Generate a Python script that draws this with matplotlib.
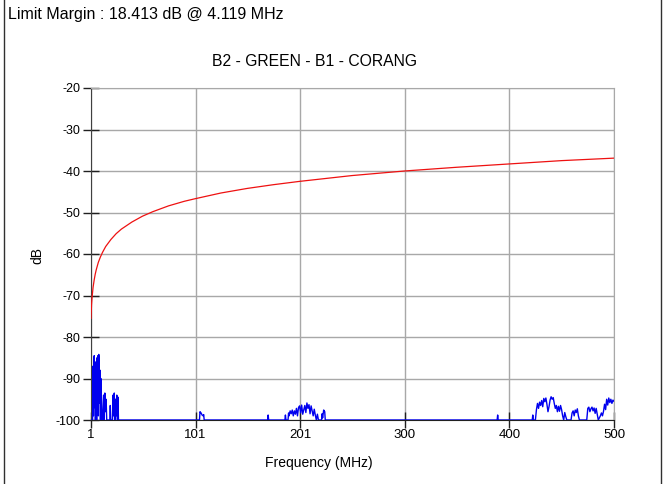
import matplotlib as mpl
mpl.use('Agg')
import matplotlib.pyplot as plt
from matplotlib.lines import Line2D
import numpy as np

plt.rcParams['font.family'] = ['Liberation Sans', 'DejaVu Sans']
plt.rcParams['axes.unicode_minus'] = False

# limit line (red)
limit_freq = [1, 1.5, 2, 3, 4, 5, 6, 8, 10, 12, 15, 20, 25, 30, 40, 50, 60, 75, 90, 100,
              125, 150, 175, 200, 250, 300, 350, 400, 450, 500]
limit_db = [-75.5, -72.2, -70.5, -68.0, -66.3, -64.9, -63.8, -62.0, -60.7, -59.6, -58.2,
            -56.5, -55.1, -54.0, -52.3, -50.9, -49.8, -48.4, -47.3, -46.7, -45.3, -44.2,
            -43.3, -42.5, -41.1, -40.0, -39.1, -38.3, -37.5, -36.9]

# measured noise (blue), floor at -100 dB
burst1_freq = [1, 2.5, 3.0, 3.3, 3.6, 4.1, 4.5, 4.8, 5.2, 5.6, 6.0, 6.4, 6.8, 7.2, 7.6, 8.0, 8.4,
               8.8, 9.2, 9.6, 10.0, 10.4, 10.8, 11.2, 11.6, 12.0, 13.0, 13.5, 14.2, 14.8, 15.4,
               16.0, 19.0, 19.4, 19.8, 21.5, 22.0, 22.6, 23.2, 23.8, 24.4, 25.0, 25.6, 26.2,
               26.8, 27.2]
burst1_db = [-100, -100, -87, -99, -86, -84.5, -97, -88, -100, -86, -90, -100, -85, -92, -84.5,
             -99, -84.2, -86, -96, -88, -100, -90, -93, -100, -99, -100, -94, -100, -93.5, -98,
             -95, -100, -100, -96.5, -100, -100, -94, -99, -93.5, -100, -95, -99, -94, -100,
             -94.5, -100]

burst2_freq = [104.5, 105, 106, 107, 108, 108.5, 109, 169.5, 170, 170.5]
burst2_db = [-100, -98.0, -98.3, -98.8, -99.0, -98.7, -100, -100, -98.8, -100]

burst3_freq = [186, 186.5, 187, 189, 189.5, 190, 191, 192, 193, 194, 195, 196, 197, 198, 199,
               200, 201, 202, 203, 204, 205, 206, 207, 208, 209, 210, 211, 212, 213, 214, 215,
               216, 217, 218, 221, 221.5, 222, 223, 224, 224.5]
burst3_db = [-100, -98.8, -100, -100, -98.3, -99, -97.8, -98.5, -97.6, -99, -97.8, -98.6, -97.2,
             -99, -97.0, -96.6, -98.3, -96.4, -98.6, -97.6, -96.5, -98.2, -95.9, -97.2, -96.3,
             -98.5, -96.6, -97.8, -99.0, -97.4, -98.8, -100, -98.6, -100, -100, -98.5, -99.5,
             -97.6, -98.0, -100]

burst4_freq = [388.5, 389, 389.5, 422, 422.5, 423, 425, 426, 427, 428, 429, 430, 431, 432, 433,
               434, 435, 436, 437, 438, 439, 440, 441, 442, 443, 444, 445, 446, 447, 448, 449,
               450, 451, 452, 453, 454, 455, 459, 460, 461, 462, 463, 464, 465, 466, 467, 474,
               475, 476, 477, 478, 479, 480, 481, 482, 483, 484, 485, 487, 488, 489, 490, 491,
               492, 493, 494, 495, 496, 497, 498, 499, 500]
burst4_db = [-100, -98.8, -100, -100, -98.8, -100, -100, -97.5, -96.0, -97.2, -95.7, -96.5,
             -95.3, -96.8, -94.8, -95.6, -94.7, -96.2, -98.0, -96.8, -95.2, -94.4, -95.0, -94.6,
             -96.0, -97.2, -96.5, -98.0, -96.7, -97.9, -96.5, -97.5, -99.0, -100, -98.2, -99.2,
             -100, -100, -98.3, -97.8, -99, -97.6, -98.2, -97.3, -99, -100, -100, -97.2, -96.9,
             -98, -97.3, -96.9, -97.8, -97.1, -98.4, -97.2, -98.6, -100, -99.0, -98.3, -99,
             -97.9, -96.2, -97.5, -95.0, -96.4, -94.7, -95.8, -95.0, -96.0, -95.2, -95.5]

x_tick_labels = ['1', '101', '201', '300', '400', '500']
y_ticks = [-100, -90, -80, -70, -60, -50, -40, -30, -20]

title = 'B2 - GREEN - B1 - CORANG'
margin_text = 'Limit Margin : 18.413 dB @ 4.119 MHz'

W, H = 663, 484
fig = plt.figure(figsize=(W / 100, H / 100), dpi=100)
ax = fig.add_axes([91 / W, 1 - 420 / H, (614 - 91) / W, (420 - 88) / H])

noise_freq = burst1_freq + burst2_freq + burst3_freq + burst4_freq
noise_db = burst1_db + burst2_db + burst3_db + burst4_db

ax.plot(noise_freq, noise_db, color='#0000ee', lw=1.0, zorder=3)
ax.plot(limit_freq, limit_db, color='#ee1111', lw=0.9, zorder=4)

ax.set_xlim(1, 500)
ax.set_ylim(-100, -20)
ax.set_xticks(np.linspace(1, 500, len(x_tick_labels)))
ax.set_xticklabels(x_tick_labels)
ax.set_yticks(y_ticks)
ax.grid(True, color='#a8a8a8', lw=1.0)
ax.set_axisbelow(True)

ax.tick_params(direction='inout', length=11, width=1.0, color='#202020',
               labelsize=9, pad=2)
ax.tick_params(axis='x', pad=1, labelsize=9.5)
for s in ['top', 'right']:
    ax.spines[s].set_color('#a8a8a8')
ax.spines['left'].set_color('#404040')
ax.spines['bottom'].set_color('#202020')

fig.text(319 / W, 1 - 463 / H, 'Frequency (MHz)', ha='center', va='center', fontsize=10)
fig.text(37 / W, 1 - 255 / H, 'dB', ha='center', va='center', rotation=90, fontsize=10)
fig.text(315 / W, 1 - 61 / H, title, ha='center', va='center', fontsize=11.3)
fig.text(8 / W, 1 - 14 / H, margin_text, ha='left', va='center', fontsize=11.5)

# frame lines at the left and right edge
fig.add_artist(Line2D([3.5 / W, 3.5 / W], [0, 1], color='#303030', lw=1.0))
fig.add_artist(Line2D([660.5 / W, 660.5 / W], [0, 1], color='#303030', lw=1.0))

plt.savefig('out.png', dpi=100)
